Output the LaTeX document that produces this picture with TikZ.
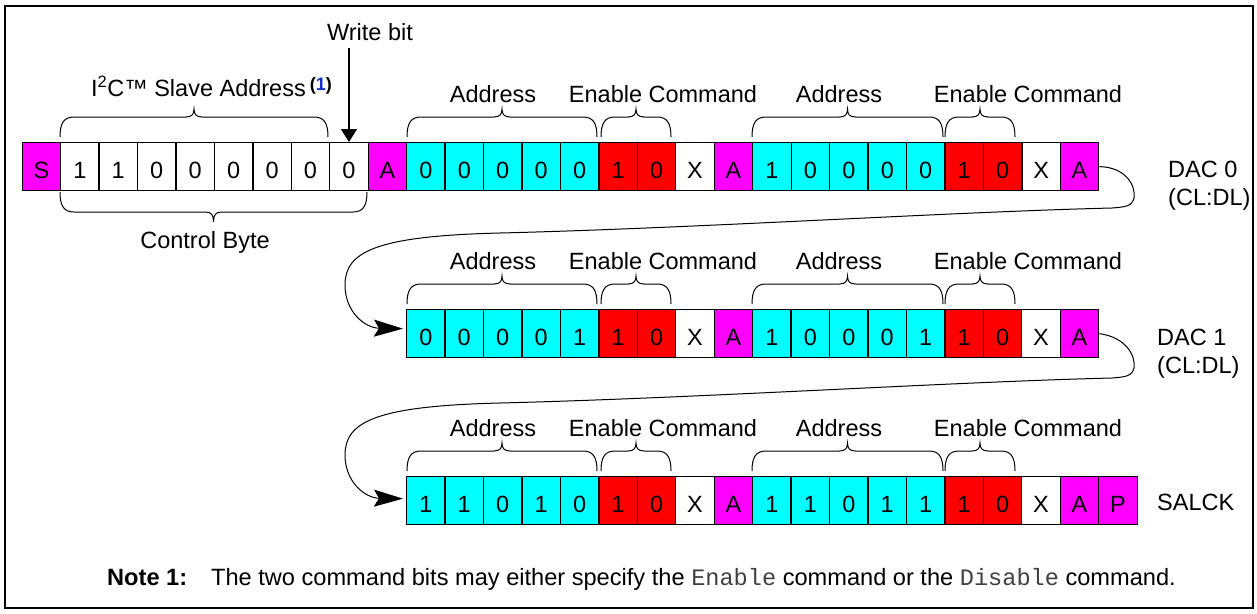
\documentclass[tikz,border=0pt]{standalone}
\usepackage{fontspec}
\setmainfont{Liberation Sans}
\newfontfamily\monofont{Liberation Mono}
\usetikzlibrary{arrows.meta}
\definecolor{mag}{HTML}{FF00FF}
\definecolor{cya}{HTML}{00FFFF}
\definecolor{rd}{HTML}{FF0000}
\definecolor{notenum}{HTML}{1030D0}
\newcommand\BrUp[3]{%
 \draw[brc] (#1,#3) .. controls (#1,{#3-14}) and ({#1+4},{#3-20}) .. ({#1+14},{#3-20})
  -- ({(#1+#2)/2-8},{#3-20}) .. controls ({(#1+#2)/2-2},{#3-20}) and ({(#1+#2)/2},{#3-23}) .. ({(#1+#2)/2},{#3-28})
  .. controls ({(#1+#2)/2},{#3-23}) and ({(#1+#2)/2+2},{#3-20}) .. ({(#1+#2)/2+8},{#3-20})
  -- ({#2-14},{#3-20}) .. controls ({#2-4},{#3-20}) and (#2,{#3-14}) .. (#2,#3);}
\newcommand\BrDown[3]{%
 \draw[brc] (#1,#3) .. controls (#1,{#3+14}) and ({#1+4},{#3+20}) .. ({#1+14},{#3+20})
  -- ({(#1+#2)/2-8},{#3+20}) .. controls ({(#1+#2)/2-2},{#3+20}) and ({(#1+#2)/2},{#3+23}) .. ({(#1+#2)/2},{#3+30})
  .. controls ({(#1+#2)/2},{#3+23}) and ({(#1+#2)/2+2},{#3+20}) .. ({(#1+#2)/2+8},{#3+20})
  -- ({#2-14},{#3+20}) .. controls ({#2-4},{#3+20}) and (#2,{#3+14}) .. (#2,#3);}
\begin{document}
\begin{tikzpicture}[x=1pt,y=-1pt,
  cell/.style={draw, line width=1.3pt, minimum width=38.45pt, minimum height=48pt, inner sep=0pt,
    anchor=north west, text height=24pt, text depth=0pt, font=\fontsize{23.5}{28}\selectfont},
  lbl/.style={font=\fontsize{23.5}{28}\selectfont, inner sep=0pt, anchor=base},
  brc/.style={line width=1pt},
  conn/.style={line width=1pt, -{Stealth[length=29pt,width=17pt,inset=5pt]}}]
\useasboundingbox (0,0) rectangle (1257,613);
\draw[line width=2pt] (4.7,5.7) rectangle (1252.5,607.5);
% row 1
\foreach \t/\c [count=\i from 0] in {S/mag,1/white,1/white,0/white,0/white,0/white,0/white,0/white,0/white,A/mag,0/cya,0/cya,0/cya,0/cya,0/cya,1/rd,0/rd,X/white,A/mag,1/cya,0/cya,0/cya,0/cya,0/cya,1/rd,0/rd,X/white,A/mag}
  \node[cell, fill=\c] (r1c\i) at ({21.5+\i*38.45},142) {\t};
% row 2
\foreach \t/\c [count=\i from 0] in {0/cya,0/cya,0/cya,0/cya,1/cya,1/rd,0/rd,X/white,A/mag,1/cya,0/cya,0/cya,0/cya,1/cya,1/rd,0/rd,X/white,A/mag}
  \node[cell, fill=\c] (r2c\i) at ({405.95+\i*38.45},309) {\t};
% row 3
\foreach \t/\c [count=\i from 0] in {1/cya,1/cya,0/cya,1/cya,0/cya,1/rd,0/rd,X/white,A/mag,1/cya,1/cya,0/cya,1/cya,1/cya,1/rd,0/rd,X/white,A/mag,P/mag}
  \node[cell, fill=\c] (r3c\i) at ({405.95+\i*38.45},476) {\t};
% braces and labels over the data bytes
\foreach \r/\yt in {1/142,2/309,3/476}{
  \BrUp{407}{597}{\yt-5}
  \BrUp{601}{671}{\yt-5}
  \BrUp{752}{943}{\yt-5}
  \BrUp{945}{1015}{\yt-5}
  \node[lbl] (adA\r) at (493,{\yt-40}) {Address};
  \node[lbl] (enA\r) at (663,{\yt-40}) {Enable Command};
  \node[lbl] (adB\r) at (839,{\yt-40}) {Address};
  \node[lbl] (enB\r) at (1028,{\yt-40}) {Enable Command};
}
% slave address / control byte
\BrUp{60}{328}{137}
\BrDown{60}{367}{192}
\node[lbl] (i2c) at (211.5,96.7) {I\textsuperscript{2}C™ Slave Address\hspace{4pt}\raisebox{6pt}{\fontsize{18}{18}\selectfont\bfseries(\textcolor{notenum}{1})}};
\node[lbl] (cb) at (205,248) {Control Byte};
\node[lbl] (wb) at (370,40) {Write bit};
\draw[line width=1.3pt, -{Triangle[length=13pt,width=16pt]}] ([yshift=-8pt]r1c8.north |- wb.south) -- (r1c8.north);
% side labels
\node[lbl, anchor=base west, align=left] (dac0) at (1168,205) {DAC 0\\(CL:DL)};
\node[lbl, anchor=base west, align=left] (dac1) at (1157,373) {DAC 1\\(CL:DL)};
\node[lbl, anchor=base west] (salck) at (1157,510) {SALCK};
% continuation arrows
\draw[conn] (r1c27.east) .. controls (1125,167) and (1136,185) .. (1134,198)
  .. controls (1132,206) and (1126,207) .. (1112,208)
  .. controls (950,212) and (700,228) .. (500,233)
  .. controls (375,236) and (345,252) .. (345,285)
  .. controls (345,312) and (365,328) .. ([shift={(-3,-5)}]r2c0.west);
\draw[conn] (r2c17.east) .. controls (1125,337) and (1136,355) .. (1134,368)
  .. controls (1132,376) and (1126,377) .. (1112,378)
  .. controls (950,382) and (700,398) .. (500,403)
  .. controls (375,406) and (345,422) .. (345,455)
  .. controls (345,482) and (365,498) .. ([shift={(-3,-2)}]r3c0.west);
% note
\node[anchor=base west, inner sep=0pt, font=\fontsize{23.6}{28}\selectfont] (note) at (107,585)
  {\textbf{Note 1:}\hspace{24pt}The two command bits may either specify the {\monofont\color{black!75}Enable} command or the {\monofont\color{black!75}Disable} command.};
\end{tikzpicture}
\end{document}
